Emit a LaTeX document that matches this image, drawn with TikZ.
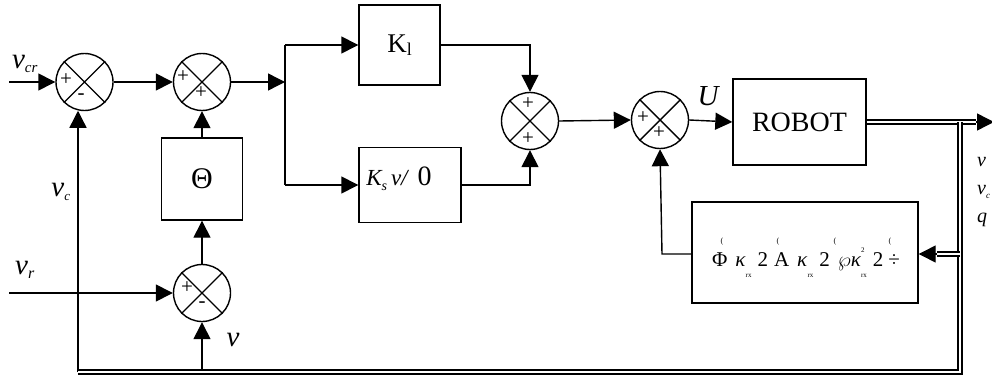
\documentclass[tikz,border=0pt]{standalone}
\usepackage{fontspec}
\setmainfont{Liberation Serif}
\usetikzlibrary{arrows.meta}
\tikzset{
  lw/.style={line width=1.4pt},
  sumj/.style={circle,draw,lw,minimum size=57pt,inner sep=0pt},
  blk/.style={draw,lw,rectangle,inner sep=0pt},
  arr/.style={lw,-{Triangle[length=17pt,width=17pt]}},
  dbl/.style={double,double distance=2.4pt,line width=1.5pt},
  sg/.style={font=\fontsize{21}{21}\selectfont,inner sep=0pt},
  lab/.style={font=\fontsize{29}{29}\selectfont\itshape,inner sep=0pt},
}
\newcommand{\crossj}[1]{\draw[lw] (#1.45) -- (#1.225) (#1.135) -- (#1.315);}
\begin{document}
\begin{tikzpicture}[x=1pt,y=-1pt]
\useasboundingbox (0,0) rectangle (992,377);
% junctions
\node[sumj] (s1) at (84.5,82) {};
\node[sumj] (s2) at (202,82) {};
\node[sumj] (s3) at (202,293) {};
\node[sumj] (s4) at (530,121) {};
\node[sumj] (s5) at (660,120) {};
\crossj{s1}\crossj{s2}\crossj{s3}\crossj{s4}\crossj{s5}
% signs
\node[sg] (p1a) at (66,80) {+};
\node[sg] (p1b) at (81,97) {-};
\node[sg] (p2a) at (183,77) {+};
\node[sg] (p2b) at (201,93) {+};
\node[sg] (p3a) at (187,288) {+};
\node[sg] (p3b) at (202,305) {-};
\node[sg] (p4a) at (528,104) {+};
\node[sg] (p4b) at (528,139) {+};
\node[sg] (p5a) at (643,118) {+};
\node[sg] (p5b) at (659,133) {+};
% blocks
\node[blk,minimum width=81pt,minimum height=80pt] (k1) at (399.5,45)
  {\fontsize{27}{27}\selectfont K\raisebox{-0.25ex}{\fontsize{18}{18}\selectfont l}};
\node[blk,minimum width=102pt,minimum height=75pt] (ks) at (410,185) {};
\node[inner sep=0pt] (kst) at (399,179)
  {\fontsize{23}{23}\selectfont\itshape K\raisebox{-0.5ex}{\fontsize{14}{14}\selectfont s}\,ν/\hspace{10pt}\upshape\fontsize{28}{28}\selectfont 0};
\node[blk,minimum width=81pt,minimum height=82pt] (th) at (202,179)
  {\fontsize{30}{30}\selectfont Θ};
\node[blk,minimum width=133pt,minimum height=86pt] (rb) at (799.5,122)
  {\fontsize{28}{28}\selectfont ROBOT};
\node[blk,minimum width=226pt,minimum height=101pt] (ph) at (805,252.5) {};
\node[inner sep=0pt] (pht) at (806,263) {\fontsize{21}{21}\selectfont
  Φ\hspace{8pt}\textit{κ}\raisebox{-1.2ex}{\fontsize{7}{7}\selectfont rx}\hspace{6pt}2\hspace{6pt}Α\hspace{8pt}\textit{κ}\raisebox{-1.2ex}{\fontsize{7}{7}\selectfont rx}\hspace{6pt}2\hspace{8pt}$\wp$\textit{κ}\rlap{\raisebox{1.4ex}{\fontsize{7}{7}\selectfont 2}}\raisebox{-1.2ex}{\fontsize{7}{7}\selectfont rx}\hspace{6pt}2\hspace{5pt}÷};
\foreach \i/\xx in {1/722,2/778,3/835,4/890}
  \node[inner sep=0pt,font=\fontsize{8}{8}\selectfont] (br\i) at (\xx,242) {(};
% coordinates
\coordinate (in1) at (9,82);
\coordinate (in2) at (9,293);
\coordinate (sp) at (285,82);
\coordinate (spt) at (285,45);
\coordinate (spb) at (285,185);
\coordinate (k1r) at (530,45);
\coordinate (ksr) at (530,185);
\coordinate (fbc) at (662,254);
\coordinate (oT) at (960,122);
\coordinate (oB) at (960,372);
\coordinate (bL) at (78,372);
\coordinate (bM) at (202,372);
\coordinate (oEnd) at (976,122);
\coordinate (oTip) at (994,122);
\coordinate (fT) at (960,254);
\coordinate (fEnd) at (937,254);
% connectors
\draw[arr] (in1) -- (s1.west);
\draw[arr] (s1.east) -- (s2.west);
\draw[arr] (s2.east) -- (sp);
\draw[lw] (spt) -- (spb);
\draw[arr] (spt) -- (k1.west);
\draw[arr] (spb) -- (ks.west);
\draw[arr] (k1.east) -- (k1r) -- (s4.north);
\draw[arr] (ks.east |- ksr) -- (ksr) -- (s4.south);
\draw[arr] (s4.east) -- (s5.west);
\draw[arr] (s5.east) -- (rb.west);
\draw[arr] (ph.west |- fbc) -- (fbc) -- (s5.south);
\draw[arr] (th.north) -- (s2.south);
\draw[arr] (s3.north) -- (th.south);
\draw[arr] (in2) -- (s3.west);
\draw[arr] (bM) -- (s3.south);
\draw[arr] (bL) -- (bL |- s1.260);
% double lines
\draw[dbl] (rb.east) -- (oEnd);
\draw[arr] (oEnd) -- (oTip);
\draw[dbl] (oT) -- (oB) -- (bL);
\draw[dbl] (fT) -- (fEnd);
\draw[arr] (fEnd) -- (ph.east |- fEnd);
% labels
\node[lab] (lvcr) at (25,64) {ν\textsubscript{\fontsize{15}{15}\selectfont cr}};
\node[lab] (lvc) at (61,192) {ν\textsubscript{\fontsize{13}{13}\selectfont c}};
\node[lab] (lvr) at (25,270) {ν\textsubscript{\fontsize{16}{16}\selectfont r}};
\node[lab] (lv) at (233,340) {ν};
\node[lab] (lu) at (708,96) {U};
\node[lab,anchor=west,font=\fontsize{20}{20}\selectfont\itshape] (rv1) at (977,162) {ν};
\node[lab,anchor=west,font=\fontsize{20}{20}\selectfont\itshape] (rv2) at (977,192) {ν\textsubscript{\fontsize{9}{9}\selectfont c}};
\node[lab,anchor=west,font=\fontsize{20}{20}\selectfont\itshape] (rv3) at (977,220) {q};
\end{tikzpicture}
\end{document}
